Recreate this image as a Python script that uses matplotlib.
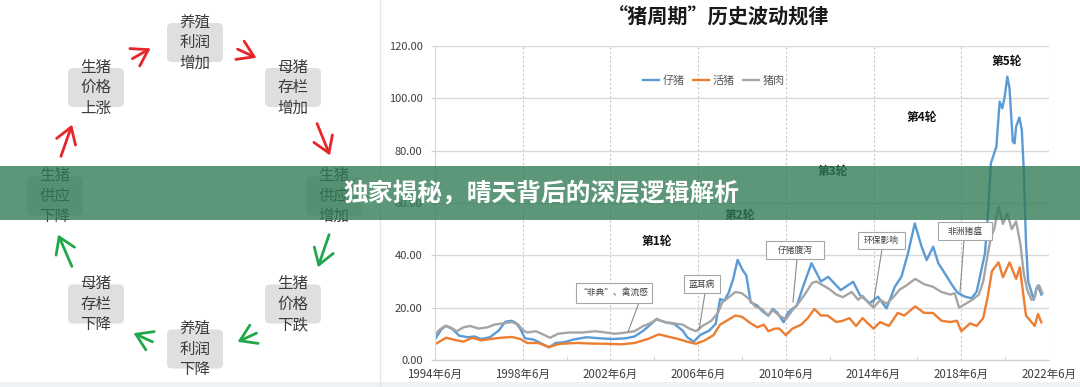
import matplotlib
matplotlib.use('Agg')
import matplotlib.pyplot as plt
from matplotlib.patches import Rectangle, FancyBboxPatch, FancyArrowPatch

plt.rcParams['font.family'] = ['Noto Sans CJK SC', 'DejaVu Sans']

# ---------------- data ----------------
piglet_t = [1994.5, 1994.8, 1995.0, 1995.3, 1995.6, 1996.0, 1996.3, 1996.6, 1997.0, 1997.4,
            1997.7, 1998.0, 1998.2, 1998.4, 1998.6, 1999.0, 1999.4, 1999.7, 2000.0, 2000.4,
            2000.8, 2001.4, 2002.0, 2002.6, 2003.2, 2003.6, 2004.0, 2004.4, 2004.6, 2005.0,
            2005.4, 2005.8, 2006.0, 2006.3, 2006.6, 2007.0, 2007.3, 2007.5, 2007.7, 2007.9,
            2008.1, 2008.3, 2008.5, 2008.7, 2008.9, 2009.2, 2009.4, 2009.7, 2009.9, 2010.1,
            2010.4, 2010.6, 2011.0, 2011.3, 2011.67, 2012.1, 2012.43, 2013.0, 2013.57, 2013.88,
            2014.33, 2014.7, 2015.09, 2015.47, 2015.77, 2016.07, 2016.38, 2016.69, 2016.92, 2017.22,
            2017.45, 2017.75, 2018.13, 2018.36, 2018.67, 2018.97, 2019.2, 2019.35, 2019.58, 2019.73,
            2019.85, 2019.95, 2020.1, 2020.25, 2020.37, 2020.48, 2020.6, 2020.7, 2020.85, 2020.93,
            2021.0, 2021.15, 2021.26, 2021.35, 2021.45, 2021.55, 2021.7, 2021.8, 2021.92, 2022.0,
            2022.15]
piglet_v = [8.0, 11.8, 13.1, 11.8, 9.3, 8.7, 9.0, 8.0, 8.7, 11.2,
            14.6, 15.0, 14.1, 11.8, 8.3, 7.8, 6.1, 4.8, 6.5, 6.8,
            7.8, 8.7, 8.3, 8.0, 8.3, 9.0, 11.2, 14.1, 15.7, 14.4,
            13.8, 11.2, 8.7, 7.0, 9.6, 11.2, 13.8, 23.3, 22.7, 25.9,
            31.0, 38.3, 34.8, 32.2, 22.0, 20.8, 18.9, 16.9, 19.5, 18.2,
            14.4, 18.2, 20.8, 28.4, 37.0, 30.0, 31.8, 26.7, 29.9, 24.8,
            21.7, 24.2, 19.7, 28.0, 31.8, 40.8, 52.2, 43.3, 38.2, 43.3,
            37.0, 33.1, 28.0, 25.5, 24.2, 23.6, 26.1, 31.8, 40.8, 57.3,
            75.2, 77.7, 81.5, 98.7, 96.2, 100.6, 108.3, 103.8, 83.4, 82.8,
            89.2, 92.7, 87.9, 72.6, 45.0, 30.0, 26.0, 23.0, 27.0, 28.5,
            25.0]

hog_t = [1994.5, 1995.0, 1995.5, 1995.8, 1996.2, 1996.6, 1997.0, 1997.5, 1998.0, 1998.4,
         1998.7, 1999.2, 1999.7, 2000.2, 2001.0, 2001.6, 2002.3, 2003.0, 2003.6, 2004.2,
         2004.7, 2005.2, 2005.6, 2006.0, 2006.4, 2006.8, 2007.2, 2007.5, 2007.8, 2008.2,
         2008.5, 2008.9, 2009.2, 2009.5, 2009.7, 2010.0, 2010.2, 2010.5, 2010.8, 2011.2,
         2011.5, 2011.8, 2012.1, 2012.4, 2012.8, 2013.1, 2013.4, 2013.7, 2014.0, 2014.3,
         2014.5, 2014.8, 2015.2, 2015.6, 2015.9, 2016.4, 2016.8, 2017.2, 2017.6, 2018.0,
         2018.3, 2018.5, 2018.9, 2019.2, 2019.5, 2019.7, 2019.9, 2020.2, 2020.4, 2020.7,
         2021.0, 2021.17, 2021.45, 2021.65, 2021.85, 2022.0, 2022.15]
hog_v = [6.0, 8.5, 7.5, 7.0, 8.5, 7.5, 8.0, 8.5, 8.8, 8.0,
         6.5, 6.5, 5.0, 6.2, 6.5, 6.3, 6.2, 6.0, 6.5, 8.0,
         9.8, 8.8, 8.0, 7.0, 6.2, 7.5, 9.5, 13.5, 15.0, 17.0,
         16.5, 14.0, 12.5, 13.5, 11.0, 12.0, 12.0, 9.5, 12.0, 13.5,
         16.0, 19.5, 17.0, 17.0, 14.5, 15.0, 16.0, 13.0, 16.0, 13.5,
         12.0, 14.5, 13.0, 18.0, 17.0, 20.5, 18.0, 18.0, 15.0, 14.5,
         15.0, 11.0, 14.0, 13.0, 16.0, 24.0, 34.0, 37.3, 31.6, 37.3,
         31.0, 35.4, 17.0, 15.0, 13.0, 17.6, 14.4]

pork_t = [1994.5, 1994.7, 1994.95, 1995.2, 1995.5, 1995.8, 1996.1, 1996.5, 1996.9, 1997.2,
          1997.6, 1998.0, 1998.3, 1998.5, 1998.7, 1999.1, 1999.5, 1999.75, 2000.1, 2000.6,
          2001.2, 2001.8, 2002.3, 2002.7, 2003.2, 2003.6, 2004.0, 2004.3, 2004.6, 2005.0,
          2005.4, 2005.8, 2006.1, 2006.4, 2006.7, 2007.1, 2007.4, 2007.6, 2007.9, 2008.2,
          2008.5, 2008.8, 2009.1, 2009.4, 2009.7, 2009.9, 2010.2, 2010.5, 2010.8, 2011.1,
          2011.4, 2011.7, 2011.9, 2012.2, 2012.5, 2012.8, 2013.1, 2013.5, 2013.8, 2014.0,
          2014.3, 2014.5, 2014.8, 2015.1, 2015.4, 2015.7, 2016.0, 2016.4, 2016.8, 2017.2,
          2017.6, 2018.0, 2018.2, 2018.4, 2018.7, 2019.0, 2019.3, 2019.5, 2019.7, 2019.85,
          2020.0, 2020.2, 2020.4, 2020.6, 2020.8, 2021.0, 2021.2, 2021.35, 2021.5, 2021.7,
          2021.85, 2021.95, 2022.05, 2022.2]
pork_v = [9.5, 11.5, 13.0, 12.5, 11.0, 12.5, 13.0, 12.0, 12.5, 13.5,
          14.0, 14.5, 13.5, 11.5, 10.5, 11.0, 9.5, 8.5, 10.0, 10.5,
          10.5, 11.0, 10.5, 10.0, 10.5, 11.0, 13.0, 14.0, 15.5, 14.5,
          14.0, 13.5, 12.0, 11.0, 13.0, 15.0, 18.0, 22.0, 24.0, 26.0,
          25.5, 23.5, 20.5, 19.5, 17.0, 19.0, 17.0, 15.5, 19.0, 22.0,
          25.5, 29.5, 30.0, 28.5, 27.0, 25.0, 24.0, 26.0, 23.0, 24.5,
          21.5, 20.0, 23.0, 21.5, 24.0, 27.0, 28.5, 31.0, 29.0, 28.0,
          26.0, 25.0, 25.5, 20.0, 21.5, 23.0, 25.0, 30.0, 40.0, 47.0,
          50.0, 58.5, 52.0, 56.0, 50.0, 53.0, 44.0, 33.0, 27.0, 23.0,
          24.0, 28.0, 28.5, 25.5]

series_names = ['仔猪', '活猪', '猪肉']
series_colors = ['#5B9BD5', '#ED7D31', '#A5A5A5']

xtick_pos = [1994.5, 1998.5, 2002.5, 2006.5, 2010.5, 2014.5, 2018.5, 2022.5]
xtick_labels = ['1994年6月', '1998年6月', '2002年6月', '2006年6月',
                '2010年6月', '2014年6月', '2018年6月', '2022年6月']
ytick_vals = [0, 20, 40, 60, 80, 100, 120]

chart_title = '“猪周期”历史波动规律'
round_labels = ['第1轮', '第2轮', '第3轮', '第4轮', '第5轮']
event_labels = ['“非典”、禽流感', '蓝耳病', '仔猪腹泻', '环保影响', '非洲猪瘟']

cycle_nodes = ['养殖\n利润\n增加', '母猪\n存栏\n增加', '生猪\n供应\n增加', '生猪\n价格\n下跌',
               '养殖\n利润\n下降', '母猪\n存栏\n下降', '生猪\n供应\n下降', '生猪\n价格\n上涨']
banner_text = '独家揭秘，晴天背后的深层逻辑解析'

# ---------------- figure ----------------
W, H = 1080, 387
fig = plt.figure(figsize=(W / 100, H / 100), dpi=100)
fig.patch.set_facecolor('white')

# chart axes
ax = fig.add_axes([435 / W, 27 / H, 614 / W, 314 / H], zorder=1)
ax.set_xlim(1994.5, 2022.5)
ax.set_ylim(0, 120)
for t, v, name, c in zip([piglet_t, hog_t, pork_t], [piglet_v, hog_v, pork_v],
                         series_names, series_colors):
    ax.plot(t, v, color=c, lw=1.7, label=name, solid_joinstyle='round')

ax.set_yticks(ytick_vals)
ax.set_yticklabels([f'{v:.2f}' for v in ytick_vals])
ax.set_xticks(xtick_pos)
ax.set_xticklabels(xtick_labels)
ax.set_xticks([2000.5, 2004.5, 2008.5, 2012.5, 2016.5, 2020.5], minor=True)
ax.tick_params(axis='y', length=3, color='#D0D0D0', pad=6, labelsize=8, labelcolor='#404040')
ax.tick_params(axis='x', which='major', length=0, pad=6, labelsize=8.3, labelcolor='#404040')
ax.tick_params(axis='x', which='minor', length=3, direction='in', color='#D0D0D0')
ax.grid(axis='y', color='#D9D9D9', lw=1.0)
for xp in xtick_pos:
    ax.axvline(xp, color='#C8C8C8', lw=0.8, ls=(0, (2, 2)), zorder=0)
for s in ['top', 'right']:
    ax.spines[s].set_visible(False)
ax.spines['left'].set_color('#D9D9D9')
ax.spines['bottom'].set_color('#D0D0D0')
ax.set_axisbelow(True)

leg = ax.legend(loc='center', bbox_to_anchor=(714 / W, 1 - 81 / H), bbox_transform=fig.transFigure,
                ncol=3, frameon=False, fontsize=8, handlelength=1.4, handletextpad=0.3,
                columnspacing=0.8)
for txt in leg.get_texts():
    txt.set_color('#595959')

# overlay in pixel coordinates
ov = fig.add_axes([0, 0, 1, 1], zorder=5)
ov.set_xlim(0, W)
ov.set_ylim(H, 0)
ov.axis('off')
ov.patch.set_alpha(0)

# divider and bottom strip
ov.plot([380, 380], [0, H], color='#E6E6E6', lw=1)
ov.add_patch(Rectangle((0, 382), W, 5, facecolor='#EDF2F6', edgecolor='none'))

# chart title
ov.text(719, 17, chart_title, ha='center', va='center', fontsize=14.5, fontweight='bold', color='#1A1A1A')

# round labels
round_pos = [(657, 242), (740, 216), (833, 171), (922, 117), (1007, 62)]
for lab, (x, y) in zip(round_labels, round_pos):
    ov.text(x, y, lab, ha='center', va='center', fontsize=8.5, fontweight='bold', color='#111111')

# event boxes with leader lines
event_boxes = [(614, 292.5, 76, 20), (701.5, 284, 36, 18), (795, 250, 58, 18),
               (881.5, 240.5, 47, 17), (965, 231, 54, 18)]
leaders = [((639, 302.5), (628, 332)), ((705, 293), (699, 330)), ((797, 259), (793, 302)),
           ((882, 249), (873, 306)), ((964, 240), (960, 292))]
for lab, (cx, cy, w, h), (p0, p1) in zip(event_labels, event_boxes, leaders):
    ov.plot([p0[0], p1[0]], [p0[1], p1[1]], color='#8C8C8C', lw=0.8, zorder=3)
    ov.add_patch(Rectangle((cx - w / 2, cy - h / 2), w, h, facecolor='white',
                           edgecolor='#A6A6A6', lw=0.8, zorder=4))
    ov.text(cx, cy, lab, ha='center', va='center', fontsize=6.3, color='#404040', zorder=5)

# ---------------- cycle diagram ----------------
node_pos = [(195, 42.5), (293, 87.5), (334, 196), (293, 304),
            (195, 349), (96, 304), (55, 196), (96, 87.5)]
for lab, (cx, cy) in zip(cycle_nodes, node_pos):
    ov.add_patch(FancyBboxPatch((cx - 26, cy - 17.5), 52, 35,
                                boxstyle='round,pad=2,rounding_size=5',
                                facecolor='#DFDFDF', edgecolor='none', zorder=2))
    for k, line in enumerate(lab.split('\n')):
        ov.text(cx, cy + (k - 1) * 20.5, line, ha='center', va='center',
                fontsize=11.2, color='#3C3C3C', zorder=3)

red = '#E5262B'
green = '#22A84A'
arrows = [((130, 60), (153, 47), red), ((235, 48), (259, 59), red),
          ((316, 121), (331, 158), red), ((60, 159), (73, 122), red),
          ((330, 232), (317, 270), green), ((259, 332), (235, 343), green),
          ((155, 343), (131, 332), green), ((73, 269), (57, 232), green)]
for p0, p1, c in arrows:
    ov.add_patch(FancyArrowPatch(p0, p1, arrowstyle='->,head_length=7,head_width=4.5',
                                 mutation_scale=1.6, color=c, lw=2.0, zorder=3))

# ---------------- banner ----------------
ov.add_patch(Rectangle((0, 166), W, 54, facecolor='#2F7A55', alpha=0.78,
                       edgecolor='none', zorder=10))
ov.text(541, 193, banner_text, ha='center', va='center', fontsize=17.8,
        fontweight='bold', color='white', zorder=11)

fig.savefig('out.png', dpi=100, facecolor='white')
